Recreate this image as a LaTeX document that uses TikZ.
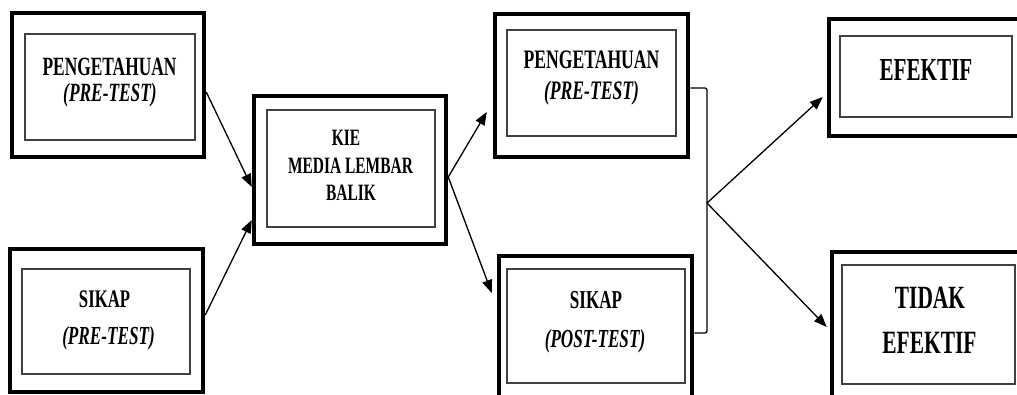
\documentclass[tikz,border=0pt]{standalone}
\usepackage{fontspec}
\setmainfont{Liberation Serif}[FakeStretch=0.66]
\usetikzlibrary{arrows.meta}
\tikzset{
  outerbox/.style={draw=black, line width=4.5pt, inner sep=0pt, fill=white},
  innerbox/.style={draw=black!75, line width=1.4pt},
  conn/.style={draw=black, line width=1.3pt},
  arr/.style={conn, -{Triangle[length=13pt,width=10pt]}},
  lbl/.style={anchor=base, inner sep=0pt, font=\bfseries\fontsize{#1}{#1}\selectfont},
  lbli/.style={anchor=base, inner sep=0pt, font=\bfseries\itshape\fontsize{#1}{#1}\selectfont}
}
\begin{document}
\begin{tikzpicture}[x=1pt,y=-1pt]
\clip (0,0) rectangle (1017,394);
\fill[white] (0,0) rectangle (1017,394);
% outer boxes
\node[outerbox, minimum width=192pt, minimum height=144pt] (b1) at (108,85) {};
\node[outerbox, minimum width=193pt, minimum height=143pt] (b2) at (106.5,320.5) {};
\node[outerbox, minimum width=192pt, minimum height=148pt] (kie) at (350,170) {};
\node[outerbox, minimum width=193pt, minimum height=143pt] (b4) at (591.5,85.5) {};
\node[outerbox, minimum width=193pt, minimum height=154pt] (b5) at (595.5,333) {};
\node[outerbox, minimum width=201pt, minimum height=117pt] (b6) at (929.5,77.5) {};
\node[outerbox, minimum width=198pt, minimum height=158pt] (b7) at (931,331) {};
% inner boxes
\draw[innerbox] (25,34) rectangle (195,140);
\draw[innerbox] (22,269) rectangle (190,374);
\draw[innerbox] (267,110) rectangle (435,227);
\draw[innerbox] (507,30) rectangle (676,136);
\draw[innerbox] (507,269) rectangle (685,383);
\draw[innerbox] (840,36) rectangle (1012,117);
\draw[innerbox] (842,265) rectangle (1015,384);
% texts
\node[lbl=26.3] (t1a) at (109.5,75.5) {PENGETAHUAN};
\node[lbli=26.3] (t1b) at (110,101.5) {(PRE-TEST)};
\node[lbl=25.3] (t2a) at (104.5,307) {SIKAP};
\node[lbli=26] (t2b) at (108.5,344) {(PRE-TEST)};
\node[lbl=23.4] (tka) at (346,145) {KIE};
\node[lbl=23.4] (tkb) at (350.5,173) {MEDIA LEMBAR};
\node[lbl=23.4] (tkc) at (351,200) {BALIK};
\node[lbl=26.7] (t4a) at (591.5,68) {PENGETAHUAN};
\node[lbli=26.7] (t4b) at (591.5,99) {(PRE-TEST)};
\node[lbl=25.8] (t5a) at (596,308) {SIKAP};
\node[lbli=26] (t5b) at (595,347) {(POST-TEST)};
\node[lbl=32] (t6a) at (926,80) {EFEKTIF};
\node[lbl=32.4] (t7a) at (930,308) {TIDAK};
\node[lbl=32.5] (t7b) at (929.5,353) {EFEKTIF};
% connectors
\coordinate (j) at (707,203);
\draw[arr] ([yshift=-7pt]b1.east) -- ([yshift=-17pt]kie.west);
\draw[arr] ([yshift=5.5pt]b2.east) -- ([yshift=-50pt]kie.west);
\draw[arr] ([yshift=-7pt]kie.east) -- ([xshift=-6pt,yshift=-26.5pt]b4.west);
\draw[arr] ([yshift=-7pt]kie.east) -- ([xshift=-5pt,yshift=40pt]b5.west);
\draw[conn, rounded corners=2pt] ([yshift=-2.5pt]b4.east) -| (j) |- (b5.east);
\draw[arr] (j) -- ([xshift=-4pt,yshift=-19.5pt]b6.west);
\draw[arr] (j) -- ([xshift=-3pt,yshift=4pt]b7.west);
\end{tikzpicture}
\end{document}
